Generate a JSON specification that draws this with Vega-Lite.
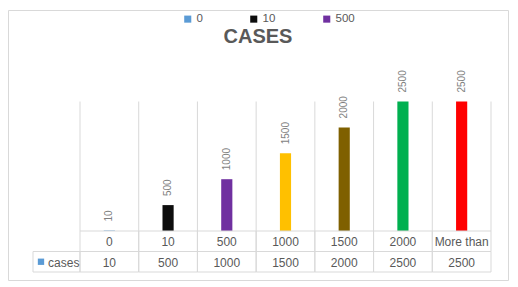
{
  "$schema": "https://vega.github.io/schema/vega-lite/v6.json",
  "width": 500,
  "height": 270,
  "autosize": "none",
  "padding": {"left": 8, "top": 10, "right": 10, "bottom": 7},
  "background": "white",
  "config": {
    "font": "Liberation Sans",
    "view": {"stroke": "#d9d9d9", "fill": "white"}
  },
  "title": {
    "text": "CASES",
    "fontSize": 20,
    "fontWeight": "bold",
    "color": "#595959",
    "font": "Liberation Sans",
    "anchor": "middle",
    "frame": "group",
    "offset": 0,
    "baseline": "alphabetic",
    "dy": 53
  },
  "datasets": {
    "cases": [
      {"category": "0", "value": 10},
      {"category": "10", "value": 500},
      {"category": "500", "value": 1000},
      {"category": "1000", "value": 1500},
      {"category": "1500", "value": 2000},
      {"category": "2000", "value": 2500},
      {"category": "More than", "value": 2500}
    ]
  },
  "data": {"name": "cases"},
  "resolve": {"scale": {"x": "independent", "y": "independent"}},
  "layer": [
    {
      "mark": {"type": "rule", "color": "#d9d9d9", "strokeWidth": 1},
      "encoding": {
        "x": {"field": "category", "type": "nominal", "bandPosition": 0, "axis": null,
              "scale": {"type": "band", "domain": ["0", "10", "500", "1000", "1500", "2000", "More than"], "range": [72, 483], "paddingInner": 0, "paddingOuter": 0}},
        "y": {"datum": 0, "type": "quantitative", "axis": null,
              "scale": {"domain": [0, 2500], "range": [221, 91.5], "nice": false, "zero": true}},
        "y2": {"datum": 2500}
      }
    },
    {
      "transform": [{"filter": "datum.category === 'More than'"}],
      "mark": {"type": "rule", "color": "#d9d9d9", "strokeWidth": 1},
      "encoding": {
        "x": {"field": "category", "type": "nominal", "bandPosition": 1, "axis": null,
              "scale": {"type": "band", "domain": ["0", "10", "500", "1000", "1500", "2000", "More than"], "range": [72, 483], "paddingInner": 0, "paddingOuter": 0}},
        "y": {"datum": 0, "type": "quantitative", "axis": null,
              "scale": {"domain": [0, 2500], "range": [221, 91.5], "nice": false, "zero": true}},
        "y2": {"datum": 2500}
      }
    },
    {
      "mark": {"type": "bar", "width": {"band": 0.19}},
      "encoding": {
        "x": {"field": "category", "type": "nominal", "axis": null,
              "scale": {"type": "band", "domain": ["0", "10", "500", "1000", "1500", "2000", "More than"], "range": [72, 483], "paddingInner": 0, "paddingOuter": 0}},
        "y": {"field": "value", "type": "quantitative", "axis": null,
              "scale": {"domain": [0, 2500], "range": [221, 91.5], "nice": false, "zero": true}},
        "color": {
          "field": "category", "type": "nominal",
          "scale": {"domain": ["0", "10", "500", "1000", "1500", "2000", "More than"],
                    "range": ["#5B9BD5", "#0D0D0D", "#7030A0", "#FFC000", "#7F6000", "#00B050", "#FF0000"]},
          "legend": {
            "values": ["0", "10", "500"],
            "title": null,
            "orient": "none",
            "direction": "horizontal",
            "legendX": 174,
            "legendY": 3,
            "padding": 0,
            "symbolType": "square",
            "symbolSize": 50,
            "symbolStrokeWidth": 0,
            "labelFontSize": 11.5,
            "labelColor": "#595959",
            "labelFont": "Liberation Sans",
            "labelOffset": 3,
            "columnPadding": 45
          }
        }
      }
    },
    {
      "mark": {"type": "text", "angle": 270, "align": "left", "baseline": "middle", "dx": 9, "fontSize": 10, "color": "#7f7f7f"},
      "encoding": {
        "x": {"field": "category", "type": "nominal", "axis": null,
              "scale": {"type": "band", "domain": ["0", "10", "500", "1000", "1500", "2000", "More than"], "range": [72, 483], "paddingInner": 0, "paddingOuter": 0}},
        "y": {"field": "value", "type": "quantitative", "axis": null,
              "scale": {"domain": [0, 2500], "range": [221, 91.5], "nice": false, "zero": true}},
        "text": {"field": "value", "type": "quantitative"}
      }
    },
    {
      "mark": {"type": "rect", "fill": "transparent", "stroke": "#d9d9d9", "strokeWidth": 1},
      "encoding": {
        "x": {"field": "category", "type": "nominal", "axis": null,
              "scale": {"type": "band", "domain": ["0", "10", "500", "1000", "1500", "2000", "More than"], "range": [72, 483], "paddingInner": 0, "paddingOuter": 0}},
        "y": {"datum": "cat", "type": "nominal", "axis": null,
              "scale": {"type": "band", "domain": ["cat", "cases"], "range": [221, 262], "paddingInner": 0, "paddingOuter": 0}}
      }
    },
    {
      "mark": {"type": "rect", "fill": "transparent", "stroke": "#d9d9d9", "strokeWidth": 1},
      "encoding": {
        "x": {"field": "category", "type": "nominal", "axis": null,
              "scale": {"type": "band", "domain": ["0", "10", "500", "1000", "1500", "2000", "More than"], "range": [72, 483], "paddingInner": 0, "paddingOuter": 0}},
        "y": {"datum": "cases", "type": "nominal", "axis": null,
              "scale": {"type": "band", "domain": ["cat", "cases"], "range": [221, 262], "paddingInner": 0, "paddingOuter": 0}}
      }
    },
    {
      "mark": {"type": "text", "fontSize": 12, "color": "#595959", "baseline": "middle", "dy": 1},
      "encoding": {
        "x": {"field": "category", "type": "nominal", "axis": null,
              "scale": {"type": "band", "domain": ["0", "10", "500", "1000", "1500", "2000", "More than"], "range": [72, 483], "paddingInner": 0, "paddingOuter": 0}},
        "y": {"datum": "cat", "type": "nominal", "axis": null,
              "scale": {"type": "band", "domain": ["cat", "cases"], "range": [221, 262], "paddingInner": 0, "paddingOuter": 0}},
        "text": {"field": "category", "type": "nominal"}
      }
    },
    {
      "mark": {"type": "text", "fontSize": 12, "color": "#595959", "baseline": "middle", "dy": 1},
      "encoding": {
        "x": {"field": "category", "type": "nominal", "axis": null,
              "scale": {"type": "band", "domain": ["0", "10", "500", "1000", "1500", "2000", "More than"], "range": [72, 483], "paddingInner": 0, "paddingOuter": 0}},
        "y": {"datum": "cases", "type": "nominal", "axis": null,
              "scale": {"type": "band", "domain": ["cat", "cases"], "range": [221, 262], "paddingInner": 0, "paddingOuter": 0}},
        "text": {"field": "value", "type": "quantitative"}
      }
    },
    {
      "data": {"values": [{"label": "cases"}]},
      "layer": [
        {
          "mark": {"type": "rect", "fill": "transparent", "stroke": "#d9d9d9", "strokeWidth": 1},
          "encoding": {
            "x": {"field": "label", "type": "nominal", "axis": null,
                  "scale": {"type": "band", "domain": ["cases"], "range": [25, 72], "paddingInner": 0, "paddingOuter": 0}},
            "y": {"datum": "cases", "type": "nominal", "axis": null,
                  "scale": {"type": "band", "domain": ["cat", "cases"], "range": [221, 262], "paddingInner": 0, "paddingOuter": 0}}
          }
        },
        {
          "mark": {"type": "point", "shape": "square", "filled": true, "size": 40, "color": "#5B9BD5", "opacity": 1},
          "encoding": {
            "x": {"field": "label", "type": "nominal", "axis": null, "bandPosition": 0.17,
                  "scale": {"type": "band", "domain": ["cases"], "range": [25, 72], "paddingInner": 0, "paddingOuter": 0}},
            "y": {"datum": "cases", "type": "nominal", "axis": null,
                  "scale": {"type": "band", "domain": ["cat", "cases"], "range": [221, 262], "paddingInner": 0, "paddingOuter": 0}}
          }
        },
        {
          "mark": {"type": "text", "fontSize": 12, "color": "#595959", "align": "left", "baseline": "middle", "dy": 1},
          "encoding": {
            "x": {"field": "label", "type": "nominal", "axis": null, "bandPosition": 0.32,
                  "scale": {"type": "band", "domain": ["cases"], "range": [25, 72], "paddingInner": 0, "paddingOuter": 0}},
            "y": {"datum": "cases", "type": "nominal", "axis": null,
                  "scale": {"type": "band", "domain": ["cat", "cases"], "range": [221, 262], "paddingInner": 0, "paddingOuter": 0}},
            "text": {"field": "label", "type": "nominal"}
          }
        }
      ]
    }
  ]
}
